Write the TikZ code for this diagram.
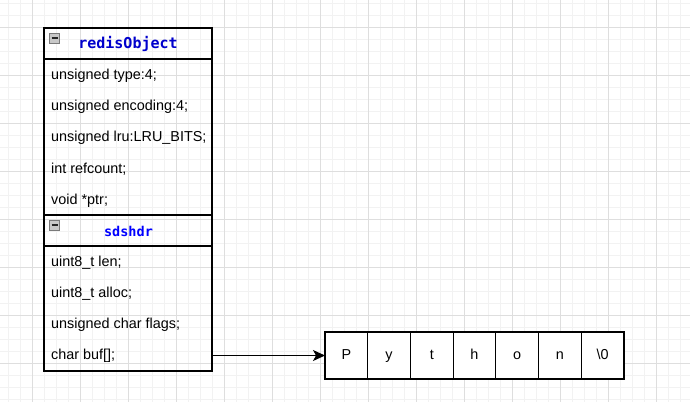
\documentclass[tikz,border=0pt]{standalone}
\usepackage{fontspec}
\setmainfont{Liberation Sans}
\newfontfamily\codefont{DejaVu Sans Mono}
\usetikzlibrary{arrows.meta}
\definecolor{gridmajor}{HTML}{DEDEDE}
\definecolor{gridminor}{HTML}{F2F2F2}
\definecolor{namedark}{HTML}{0000CC}
\definecolor{namelight}{HTML}{0000FF}
\definecolor{togglegray}{HTML}{C8C8C8}
\definecolor{toggleedge}{HTML}{7A7A7A}
\tikzset{
  structbox/.style={draw, line width=1.2pt, inner sep=0pt, outer sep=0pt, minimum width=168pt, anchor=north west},
  field/.style={anchor=west, inner sep=0pt, text height=10pt, text depth=3pt, font=\fontsize{14.4}{17}\selectfont},
  typename/.style={inner sep=0pt, font=\codefont\bfseries\fontsize{#1}{17}\selectfont},
  toggle/.style={draw=toggleedge, fill=togglegray, line width=0.8pt, minimum size=10pt, inner sep=0pt,
    path picture={\draw[line width=1.4pt, black!85]
      ([xshift=2pt]path picture bounding box.west) -- ([xshift=-2pt]path picture bounding box.east);}},
  charcell/.style={draw, fill=white, line width=1.2pt, minimum width=42.71pt, minimum height=47pt,
    inner sep=0pt, outer sep=0pt, text height=10pt, text depth=3pt, font=\fontsize{14.4}{17}\selectfont}
}
\begin{document}
\begin{tikzpicture}[x=1pt, y=-1pt]
    \useasboundingbox (0,0) rectangle (690,402);
    % background grid
    \foreach \x in {8,20,...,688} \draw[gridminor, line width=0.8pt] (\x,0) -- (\x,402);
    \foreach \y in {3,15,...,399} \draw[gridminor, line width=0.8pt] (0,\y) -- (690,\y);
    \foreach \x in {32,80,...,680} \draw[gridmajor, line width=0.8pt] (\x,0) -- (\x,402);
    \foreach \y in {27,75,...,363} \draw[gridmajor, line width=0.8pt] (0,\y) -- (690,\y);

    % redisObject
    \node[structbox, minimum height=187pt] (redis) at (44,28) {};
    \draw[line width=1.2pt] ([yshift=-31pt]redis.north west) -- ([yshift=-31pt]redis.north east);
    \node[toggle] (redistoggle) at (54.7,38) {};
    \node[typename=15, text=namedark] (redisname) at (128,44) {redisObject};
    \node[field] (type) at (51,76) {unsigned type:4;};
    \node[field] (encoding) at (51,107.2) {unsigned encoding:4;};
    \node[field] (lru) at (51,138.4) {unsigned lru:LRU\_BITS;};
    \node[field] (refcount) at (51,169.6) {int refcount;};
    \node[field] (ptr) at (51,200.8) {void *ptr;};

    % sdshdr
    \node[structbox, minimum height=156pt] (sds) at (44,215) {};
    \draw[line width=1.2pt] ([yshift=-31pt]sds.north west) -- ([yshift=-31pt]sds.north east);
    \node[toggle] (sdstoggle) at (54.7,225) {};
    \node[typename=13.5, text=namelight] (sdsname) at (128.5,231) {sdshdr};
    \node[field] (len) at (51,262.8) {uint8\_t len;};
    \node[field] (alloc) at (51,294) {uint8\_t alloc;};
    \node[field] (flags) at (51,325.2) {unsigned char flags;};
    \node[field] (buf) at (51,356.4) {char buf[];};

    % buf contents
    \foreach \ch [count=\i] in {P,y,t,h,o,n,{\textbackslash 0}}
      \node[charcell] (c\i) at ({325+42.71*(\i-0.5)},355.5) {\ch};

    \coordinate (bufout) at (sds.east |- c1);
    \draw[-{Stealth[length=12pt, width=11pt, inset=3pt]}, line width=1.2pt] (bufout) -- (c1.west);
\end{tikzpicture}
\end{document}
